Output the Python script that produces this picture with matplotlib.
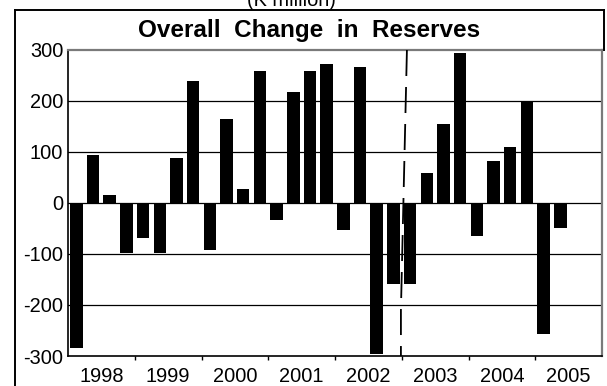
import matplotlib
matplotlib.use("Agg")
import matplotlib.pyplot as plt
from matplotlib.lines import Line2D
import numpy as np

plt.rcParams['font.family'] = ['Liberation Sans', 'DejaVu Sans']

# Quarterly change in reserves, 1998 Q1 - 2005 Q2 (K million)
years = ["1998", "1999", "2000", "2001", "2002", "2003", "2004", "2005"]
changes = [-284, 94, 16, -99,
           -68, -99, 88, 240,
           -93, 165, 28, 259,
           -34, 217, 259, 272,
           -53, 267, -296, -159,
           -159, 59, 154, 295,
           -65, 83, 110, 200,
           -257, -49]
y_ticks = [-300, -200, -100, 0, 100, 200, 300]

W, H = 607, 386
fig = plt.figure(figsize=(W / 100, H / 100), dpi=100)

left, right, top, bottom = 68, 602, 50, 356
ax = fig.add_axes([left / W, 1 - bottom / H, (right - left) / W, (bottom - top) / H])

x = np.arange(len(changes))
ax.bar(x, changes, width=0.75, color="black", zorder=3)

ax.set_xlim(-0.5, 4 * len(years) - 0.5)
ax.set_ylim(-300, 300)
ax.set_yticks(y_ticks)
ax.set_yticklabels([str(v) for v in y_ticks])
ax.tick_params(axis="y", length=0, pad=3.4, labelsize=14.4)

for v in y_ticks[1:-1]:
    ax.axhline(v, color="black", lw=0.9, zorder=1)

# year boundaries as major ticks, year names centred as minor tick labels
ax.set_xticks([4 * k - 0.5 for k in range(1, len(years))])
ax.set_xticklabels([])
ax.set_xticks([4 * k + 1.5 for k in range(len(years))], minor=True)
ax.set_xticklabels(years, minor=True)
ax.tick_params(axis="x", which="major", length=3, width=1, direction="out")
ax.tick_params(axis="x", which="minor", length=0, pad=8, labelsize=14.4)

for side in ("left", "bottom"):
    ax.spines[side].set_color("black")
    ax.spines[side].set_linewidth(1.2)
for side in ("top", "right"):
    ax.spines[side].set_color("#7a7a7a")
    ax.spines[side].set_linewidth(1.6)

# break marker between 2002 and 2003
ax.plot([19.81, 19.45, 19.45], [300, -210, -300], color="black", lw=1.3,
        linestyle=(0, (14.4, 6.1)), zorder=4, clip_on=False)

# outer frame
def fpt(px, py):
    return px / W, 1 - py / H

for (x0, y0), (x1, y1) in [((15, 9.5), (603.5, 9.5)),
                           ((15, 9.5), (15, 400)),
                           ((603.5, 9.5), (603.5, 50))]:
    a, b = fpt(x0, y0)
    c, d = fpt(x1, y1)
    fig.add_artist(Line2D([a, c], [b, d], transform=fig.transFigure,
                          color="black", lw=1.4))

fig.text(309 / W, 1 - 37 / H, "Overall  Change  in  Reserves", ha="center",
         va="baseline", fontsize=17.5, fontweight="bold")
fig.text(291 / W, 1 - 5.5 / H, "(K million)", ha="center", va="baseline",
         fontsize=14.4)

fig.savefig("out.png", dpi=100)
